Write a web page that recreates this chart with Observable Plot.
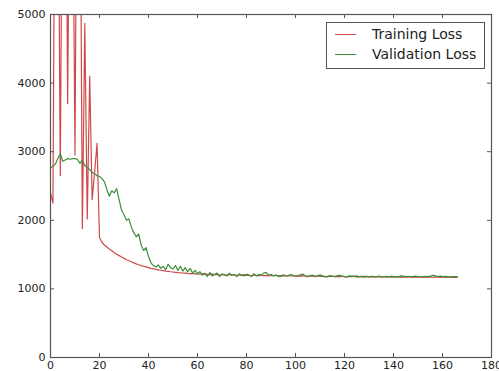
<!DOCTYPE html>
<html>
<head>
<meta charset="utf-8">
<script src="https://cdn.jsdelivr.net/npm/d3@7"></script>
<script src="https://cdn.jsdelivr.net/npm/@observablehq/plot@0.6"></script>
<style>
  html, body { margin: 0; padding: 0; background: #fff; }
  #wrap { position: relative; width: 499px; height: 371px; overflow: hidden; font-family: "DejaVu Sans", sans-serif; }
  #legend { position: absolute; left: 326px; top: 22px; width: 159px; height: 47px; box-sizing: border-box; border: 1px solid #555; background: #fff; }
  .row { position: absolute; left: 0; height: 20px; width: 100%; }
  .sw { position: absolute; left: 8px; width: 21px; top: 10px; height: 0; border-top: 1.2px solid; }
  .lbl { position: absolute; left: 45px; top: 1px; font-size: 14px; line-height: 18px; color: #222; white-space: nowrap; }
</style>
</head>
<body>
<div id="wrap"></div>
<script>
// ---- data ----
const seriesNames = ["Training Loss", "Validation Loss"];
const xTicks = [0, 20, 40, 60, 80, 100, 120, 140, 160, 180];
const yTicks = [0, 1000, 2000, 3000, 4000, 5000];

const trainingLoss = [
  2400, 2250, 9000, 8000, 2650, 8500, 9000, 3700, 8000, 7500,
  2950, 9000, 8000, 1880, 4870, 2020, 4100, 2300, 2700, 3120,
  1750,
  1680, 1640, 1610, 1580, 1555, 1530, 1505, 1485, 1465, 1445,
  1425, 1410, 1395, 1380, 1365, 1352, 1340, 1330, 1320, 1310,
  1300, 1292, 1285, 1278, 1272, 1266, 1260, 1255, 1250, 1246,
  1242, 1238, 1235, 1232, 1229, 1226, 1224, 1222, 1220, 1218,
  1216, 1222, 1210, 1214, 1205, 1218, 1208, 1212, 1200, 1210,
  1204, 1198, 1212, 1200, 1206, 1195, 1204, 1198, 1208, 1196,
  1200, 1192, 1204, 1195, 1190, 1202, 1194, 1198, 1188, 1196,
  1192, 1200, 1186, 1194, 1190, 1184, 1196, 1188, 1192, 1185,
  1190, 1182, 1194, 1186, 1180, 1190, 1184, 1178, 1188, 1182,
  1186, 1176, 1184, 1180, 1188, 1178, 1182, 1176, 1184, 1180,
  1174, 1182, 1178, 1186, 1172, 1180, 1176, 1170, 1182, 1176,
  1178, 1172, 1180, 1174, 1170, 1178, 1174, 1180, 1170, 1176,
  1172, 1178, 1168, 1176, 1172, 1170, 1178, 1168, 1174, 1170,
  1176, 1166, 1172, 1170, 1174, 1168, 1172, 1176, 1166, 1170,
  1172, 1168, 1174, 1166, 1170, 1168
];

const validationLoss = [
  2760, 2790, 2820, 2900, 2970, 2860, 2880, 2900, 2890, 2900,
  2900, 2890, 2830, 2870, 2800, 2770, 2740, 2700, 2680, 2650,
  2640, 2610, 2560, 2450, 2350, 2430, 2400, 2460, 2300, 2150,
  2080, 2000, 2020, 1900, 1820, 1760, 1800, 1640, 1560, 1600,
  1470, 1380, 1340,
  1320, 1350, 1300, 1330, 1280, 1360, 1310, 1290, 1340, 1270,
  1330, 1260, 1310, 1250, 1300, 1230, 1270, 1220,
  1250, 1200, 1230, 1180, 1240, 1190, 1210, 1230, 1180, 1220,
  1200, 1190, 1230, 1200, 1210, 1180, 1220, 1200, 1190, 1215,
  1200, 1180, 1220, 1190, 1210, 1200, 1230, 1240, 1200, 1210,
  1190, 1200, 1185, 1180, 1205, 1195, 1190, 1210, 1200, 1185,
  1195, 1205, 1215, 1190, 1180, 1195, 1200, 1185, 1190, 1205,
  1190, 1180, 1175, 1195, 1185, 1180, 1190, 1200, 1185, 1180,
  1175, 1190, 1185, 1180, 1190, 1175, 1185, 1178, 1182, 1170,
  1185, 1180, 1175, 1188, 1180, 1175, 1182, 1170, 1185, 1178,
  1180, 1175, 1190, 1185, 1178, 1182, 1175, 1180, 1185, 1178,
  1180, 1175, 1182, 1178, 1185, 1200, 1190, 1180, 1185, 1178,
  1182, 1180, 1175, 1178, 1180, 1178
];

const colors = ["#d04848", "#3b8f3b"];

// ---- chart ----
const W = 499, H = 371;
const mL = 50, mR = 8, mT = 14, mB = 14;
const pw = W - mL - mR, ph = H - mT - mB;
const tick = 4;

const trainRows = trainingLoss.map((v, i) => ({epoch: i, loss: v}));
const valRows = validationLoss.map((v, i) => ({epoch: i, loss: v}));
const axisColor = "#555";

const chart = Plot.plot({
  width: W, height: H,
  marginLeft: mL, marginRight: mR, marginTop: mT, marginBottom: mB,
  style: {fontFamily: "DejaVu Sans, sans-serif", fontSize: "11px", background: "#fff", color: "#222", overflow: "visible"},
  x: {domain: [0, 180], label: null},
  y: {domain: [0, 5000], label: null},
  marks: [
    Plot.line(trainRows, {x: "epoch", y: "loss", stroke: colors[0], strokeWidth: 1.2, clip: true}),
    Plot.line(valRows, {x: "epoch", y: "loss", stroke: colors[1], strokeWidth: 1.2, clip: true}),
    Plot.frame({stroke: axisColor, strokeWidth: 1.2}),
    Plot.tickX(xTicks, {x: d => d, insetTop: ph - tick, stroke: axisColor}),
    Plot.tickX(xTicks, {x: d => d, insetBottom: ph - tick, stroke: axisColor}),
    Plot.tickY(yTicks, {y: d => d, insetRight: pw - tick, stroke: axisColor}),
    Plot.tickY(yTicks, {y: d => d, insetLeft: pw - tick, stroke: axisColor}),
    Plot.axisX({ticks: xTicks, tickSize: 0, tickPadding: 4, tickFormat: d => String(d), fill: "#222", label: null}),
    Plot.axisY({ticks: yTicks, tickSize: 0, tickPadding: 5, tickFormat: d => String(d), fill: "#222", label: null})
  ]
});

const wrap = document.getElementById("wrap");
wrap.appendChild(chart);

// legend
const legend = document.createElement("div");
legend.id = "legend";
seriesNames.forEach((name, i) => {
  const row = document.createElement("div");
  row.className = "row";
  row.style.top = (i === 0 ? 1 : 21) + "px";
  const sw = document.createElement("div");
  sw.className = "sw";
  sw.style.borderTopColor = colors[i];
  const lbl = document.createElement("div");
  lbl.className = "lbl";
  lbl.textContent = name;
  row.appendChild(sw);
  row.appendChild(lbl);
  legend.appendChild(row);
});
wrap.appendChild(legend);
</script>
</body>
</html>
